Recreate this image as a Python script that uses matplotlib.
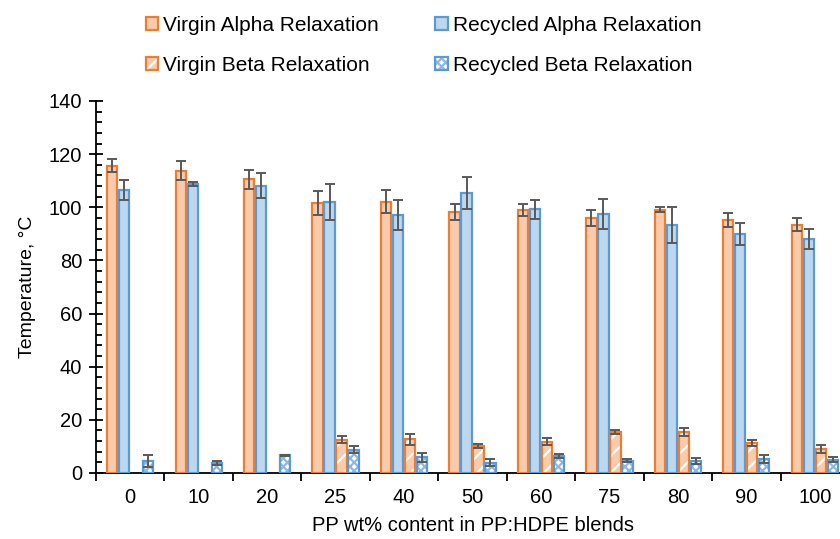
import numpy as np
import matplotlib.pyplot as plt
from matplotlib.legend_handler import HandlerTuple
from matplotlib.ticker import MultipleLocator, FixedLocator, NullFormatter

plt.rcParams['font.family'] = ['Liberation Sans', 'DejaVu Sans']
plt.rcParams['hatch.linewidth'] = 1.6

blends = ['0', '10', '20', '25', '40', '50', '60', '75', '80', '90', '100']

virgin_alpha = [115.7, 113.8, 110.5, 101.5, 102.1, 98.1, 99.0, 95.9, 99.1, 95.2, 93.5]
virgin_alpha_err = [2.6, 3.6, 3.5, 4.5, 4.3, 3.0, 2.4, 3.0, 1.0, 2.5, 2.3]
recycled_alpha = [106.5, 108.8, 108.1, 101.9, 97.1, 105.3, 99.2, 97.5, 93.4, 90.0, 88.1]
recycled_alpha_err = [3.7, 0.8, 4.7, 6.8, 5.5, 6.0, 3.5, 5.8, 6.7, 4.2, 3.7]
virgin_beta = [np.nan, np.nan, np.nan, 12.5, 12.7, 10.2, 11.8, 15.5, 15.5, 11.3, 9.0]
virgin_beta_err = [np.nan, np.nan, np.nan, 1.3, 2.0, 0.8, 1.4, 0.8, 1.6, 1.1, 1.4]
recycled_beta = [4.6, 3.8, 6.6, 8.8, 6.0, 3.8, 6.5, 4.6, 4.4, 5.3, 5.0]
recycled_beta_err = [2.3, 0.9, 0.3, 1.2, 1.7, 1.3, 0.7, 0.6, 1.2, 1.4, 1.0]

ORANGE, ORANGE_FILL = '#ED7D31', '#F8CBAD'
BLUE, BLUE_FILL = '#5B9BD5', '#BDD7EE'
ERR = '#595959'

fig = plt.figure(figsize=(8.4, 5.39), dpi=100)
ax = fig.add_axes([96 / 840, 66 / 539, 753 / 840, 372 / 539])

x = np.arange(len(blends))
step = 0.175
width = 0.15


def draw_series(offset, vals, errs, face, edge, hatch=None, hatch_col=None):
    vals = np.asarray(vals, float)
    errs = np.asarray(errs, float)
    ok = ~np.isnan(vals)
    xs = x[ok] + offset
    if hatch:
        fill = ax.bar(xs, vals[ok], width, color=face, edgecolor=hatch_col,
                      hatch=hatch, linewidth=0, zorder=2)
    else:
        fill = ax.bar(xs, vals[ok], width, color=face, linewidth=0, zorder=2)
    outline = ax.bar(xs, vals[ok], width, facecolor='none', edgecolor=edge,
                     linewidth=1.6, zorder=3)
    ax.errorbar(xs, vals[ok], yerr=errs[ok], fmt='none', ecolor=ERR,
                elinewidth=1.4, capsize=3.7, capthick=1.4, zorder=4)
    return (fill[0], outline[0])


h_va = draw_series(-1.5 * step, virgin_alpha, virgin_alpha_err, ORANGE_FILL, ORANGE)
h_ra = draw_series(-0.5 * step, recycled_alpha, recycled_alpha_err, BLUE_FILL, BLUE)
h_vb = draw_series(0.5 * step, virgin_beta, virgin_beta_err, ORANGE_FILL, ORANGE,
                   hatch='//', hatch_col='white')
h_rb = draw_series(1.5 * step, recycled_beta, recycled_beta_err, 'white', BLUE,
                   hatch='xxxx', hatch_col='#8FB8E2')

ax.set_xlim(-0.5, len(blends) - 0.5)
ax.set_ylim(0, 140)

# category boundaries as ticks, labels at the centres
ax.xaxis.set_major_locator(FixedLocator(np.arange(-0.5, len(blends), 1)))
ax.xaxis.set_major_formatter(NullFormatter())
ax.xaxis.set_minor_locator(FixedLocator(x))
ax.set_xticklabels(blends, minor=True)
ax.tick_params(axis='x', which='major', direction='out', length=6, width=1.3)
ax.tick_params(axis='x', which='minor', length=0, pad=11, labelsize=14.5)

ax.yaxis.set_major_locator(MultipleLocator(20))
ax.yaxis.set_minor_locator(MultipleLocator(4))
ax.tick_params(axis='y', which='major', direction='inout', length=10, width=1.3,
               labelsize=14.5, pad=5)
ax.tick_params(axis='y', which='minor', direction='in', length=4, width=1.3)

for side in ['top', 'right']:
    ax.spines[side].set_visible(False)
ax.spines['left'].set_linewidth(1.3)
ax.spines['bottom'].set_linewidth(1.3)

ax.set_xlabel('PP wt% content in PP:HDPE blends', fontsize=14.5, labelpad=6)
ax.set_ylabel('Temperature, °C', fontsize=14, labelpad=9)

fig.legend([h_va, h_vb, h_ra, h_rb],
           ['Virgin Alpha Relaxation', 'Virgin Beta Relaxation',
            'Recycled Alpha Relaxation', 'Recycled Beta Relaxation'],
           handler_map={tuple: HandlerTuple(ndivide=1)},
           ncol=2, frameon=False, fontsize=15, loc='upper left',
           bbox_to_anchor=(127 / 840, 1.005), handlelength=0.6, handleheight=0.6,
           handletextpad=0.25, columnspacing=2.7, labelspacing=1.0)

fig.savefig('out.png', dpi=100)
